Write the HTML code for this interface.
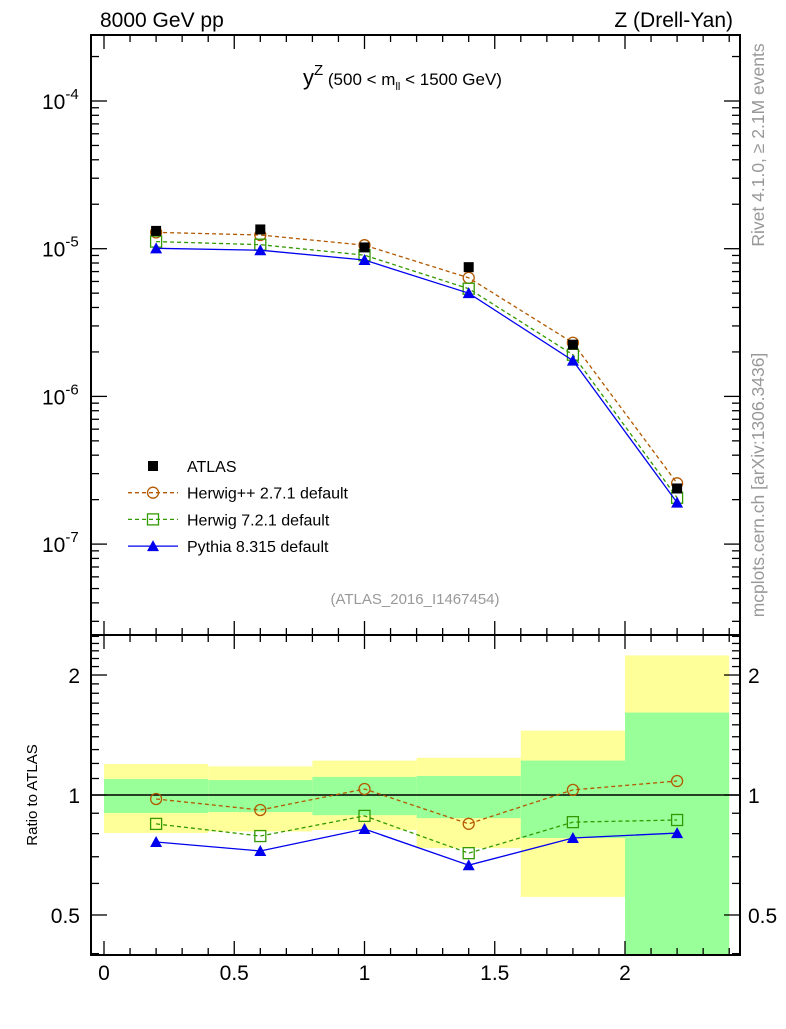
<!DOCTYPE html>
<html><head><meta charset="utf-8"><style>
body{margin:0;background:#fff;width:786px;height:1024px;overflow:hidden}
svg{font-family:"Liberation Sans",sans-serif}
</style></head><body>
<svg id="c" width="786" height="1024" viewBox="0 0 786 1024"></svg>
<script>
const binEdges=[0,0.4,0.8,1.2,1.6,2.0,2.4];
const xCenters=[0.2,0.6,1.0,1.4,1.8,2.2];
const atlas=[1.32e-5,1.35e-5,1.02e-5,7.5e-6,2.24e-6,2.38e-7];
const herwigpp=[1.29e-5,1.238e-5,1.056e-5,6.35e-6,2.307e-6,2.58e-7];
const herwig7=[1.117e-5,1.065e-5,9.04e-6,5.36e-6,1.915e-6,2.06e-7];
const pythia=[1.006e-5,9.77e-6,8.38e-6,5.0e-6,1.747e-6,1.91e-7];
const yellowHi=[1.196,1.18,1.22,1.24,1.45,2.24];
const yellowLo=[0.803,0.81,0.817,0.736,0.555,0.3];
const greenHi=[1.097,1.09,1.11,1.116,1.22,1.61];
const greenLo=[0.901,0.906,0.89,0.875,0.78,0.3];
const xTicks=[0,0.5,1,1.5,2];
const xTickLabels=["0","0.5","1","1.5","2"];
const ratioTicks=[0.5,1,2];
const ratioTickLabels=["0.5","1","2"];

const NS="http://www.w3.org/2000/svg";
const svg=document.getElementById('c');
function el(t,a,p){const e=document.createElementNS(NS,t);for(const k in a)e.setAttribute(k,a[k]);(p||svg).appendChild(e);return e;}
const L=91,R=740,T=35,M=635,B=955;
const X=v=>104+(v)*260.5;
const Y=v=>101+(-4-Math.log10(v))*147.7;
const YR=v=>795-Math.log10(v)*398.6;
const clipR=el('clipPath',{id:'cr'});el('rect',{x:L,y:M,width:R-L,height:B-M},clipR);
const clipM=el('clipPath',{id:'cm'});el('rect',{x:L,y:T,width:R-L,height:M-T},clipM);

for(let i=0;i<6;i++){
  let r=el('rect',{x:X(binEdges[i]),y:YR(yellowHi[i]),width:X(binEdges[i+1])-X(binEdges[i]),height:YR(yellowLo[i])-YR(yellowHi[i]),fill:'#ffff99','clip-path':'url(#cr)'});
  
  let g=el('rect',{x:X(binEdges[i]),y:YR(greenHi[i]),width:X(binEdges[i+1])-X(binEdges[i]),height:YR(greenLo[i])-YR(greenHi[i]),fill:'#99ff99','clip-path':'url(#cr)'});
  
}
el('line',{x1:L,x2:R,y1:YR(1),y2:YR(1),stroke:'#000','stroke-width':1.5});

const series=[
 {d:herwigpp,c:'#b35900',dash:'4,3',m:'circle',name:'herwigpp'},
 {d:herwig7,c:'#339900',dash:'4,3',m:'square',name:'herwig7'},
 {d:pythia,c:'#0000ee',dash:'',m:'tri',name:'pythia'}];
function marker(m,x,y,c,g){
  if(m==='circle')return el('circle',{cx:x,cy:y,r:5.5,fill:'none',stroke:c,'stroke-width':1.3},g);
  if(m==='square')return el('rect',{x:x-5.5,y:y-5.5,width:11,height:11,fill:'none',stroke:c,'stroke-width':1.3},g);
  if(m==='tri')return el('polygon',{points:`${x-6},${y+5} ${x+6},${y+5} ${x},${y-6}`,fill:c},g);
  return el('rect',{x:x-5,y:y-5,width:10,height:10,fill:c},g);
}
for(const s of series){
  const gm=el('g',{'clip-path':'url(#cm)'});
  el('polyline',{points:s.d.map((v,i)=>X(xCenters[i])+','+Y(v)).join(' '),fill:'none',stroke:s.c,'stroke-width':1.3,'stroke-dasharray':s.dash},gm);
  s.d.forEach((v,i)=>marker(s.m,X(xCenters[i]),Y(v),s.c,gm));
  const gr=el('g',{'clip-path':'url(#cr)'});
  el('polyline',{points:s.d.map((v,i)=>X(xCenters[i])+','+YR(v/atlas[i])).join(' '),fill:'none',stroke:s.c,'stroke-width':1.3,'stroke-dasharray':s.dash},gr);
  s.d.forEach((v,i)=>marker(s.m,X(xCenters[i]),YR(v/atlas[i]),s.c,gr));
}
const ga=el('g',{});
atlas.forEach((v,i)=>marker('sq',X(xCenters[i]),Y(v),'#000',ga));

el('rect',{x:L,y:T,width:R-L,height:M-T,fill:'none',stroke:'#000','stroke-width':2});
el('rect',{x:L,y:M,width:R-L,height:B-M,fill:'none',stroke:'#000','stroke-width':2});
for(let k=0;k<=24;k++){const v=k/10,x=X(v),len=(k%5===0)?14:7;
  for(const [y0,y1] of [[T,T+len],[M,M-len],[M,M+len],[B,B-len]])el('line',{x1:x,x2:x,y1:y0,y2:y1,stroke:'#000','stroke-width':1.3});}
xTicks.forEach((v,i)=>{const t=el('text',{x:X(v),y:980,'font-size':21,'text-anchor':'middle'});t.textContent=xTickLabels[i];
 });
for(let e=-8;e<=-3;e++)for(let m=1;m<10;m++){const v=m*Math.pow(10,e),y=Y(v);if(y<T||y>M)continue;const len=m===1?16:8;
  el('line',{x1:L,x2:L+len,y1:y,y2:y,stroke:'#000','stroke-width':1.3});el('line',{x1:R,x2:R-len,y1:y,y2:y,stroke:'#000','stroke-width':1.3});
  if(m===1){const t=el('text',{x:42,y:y+8,'font-size':21});t.textContent='10';const s=el('tspan',{dy:-10,'font-size':15},t);s.textContent=String(e);
   }}
for(let k=3;k<=25;k++){const v=k/10;const y=YR(v);if(y<M||y>B)continue;const major=(v===0.5||v===1||v===2);const len=major?16:8;
  el('line',{x1:L,x2:L+len,y1:y,y2:y,stroke:'#000','stroke-width':1.3});el('line',{x1:R,x2:R-len,y1:y,y2:y,stroke:'#000','stroke-width':1.3});}
ratioTicks.forEach((v,i)=>{for(const [x,a] of [[80,'end'],[748,'start']]){const t=el('text',{x:x,y:YR(v)+8,'font-size':21,'text-anchor':a});t.textContent=ratioTickLabels[i];
 }});

function txt(s,a,name){const t=el('text',a);t.textContent=s;return t;}
txt('8000 GeV pp',{x:100,y:27,'font-size':21},'beam-label');
txt('Z (Drell-Yan)',{x:733,y:27,'font-size':21,'text-anchor':'end'},'process-label');
const ti=txt('y',{x:303,y:85,'font-size':22},'plot-title');
const s1=el('tspan',{dy:-10,'font-size':15},ti);s1.textContent='Z';
const s2=el('tspan',{dy:10,'font-size':17},ti);s2.textContent=' (500 < m';
const s3=el('tspan',{dy:5,'font-size':11},ti);s3.textContent='ll';
const s4=el('tspan',{dy:-5,'font-size':17},ti);s4.textContent=' < 1500 GeV)';
txt('(ATLAS_2016_I1467454)',{x:415,y:604,'font-size':15,fill:'#999','text-anchor':'middle'},'analysis-id');
txt('Ratio to ATLAS',{x:0,y:0,'font-size':15,transform:'translate(37,795) rotate(-90)','text-anchor':'middle'},'ratio-axis-title');
txt('Rivet 4.1.0, ≥ 2.1M events',{x:0,y:0,'font-size':17.5,fill:'#999',transform:'translate(764,145) rotate(-90)','text-anchor':'middle'},'rivet-label');
txt('mcplots.cern.ch [arXiv:1306.3436]',{x:0,y:0,'font-size':17.5,fill:'#999',transform:'translate(764,485) rotate(-90)','text-anchor':'middle'},'mcplots-label');
const leg=[['ATLAS','sq','#000',''],['Herwig++ 2.7.1 default','circle','#b35900','4,3'],['Herwig 7.2.1 default','square','#339900','4,3'],['Pythia 8.315 default','tri','#0000ee','']];
leg.forEach((l,i)=>{const y=466+i*26.7;const g=el('g',{});
 if(i>0)el('line',{x1:128,x2:178,y1:y,y2:y,stroke:l[2],'stroke-width':1.3,'stroke-dasharray':l[3]},g);
 marker(l[1],153,y,l[2],g);const t=el('text',{x:187,y:y+6,'font-size':16},g);t.textContent=l[0];});
</script>
</body></html>
